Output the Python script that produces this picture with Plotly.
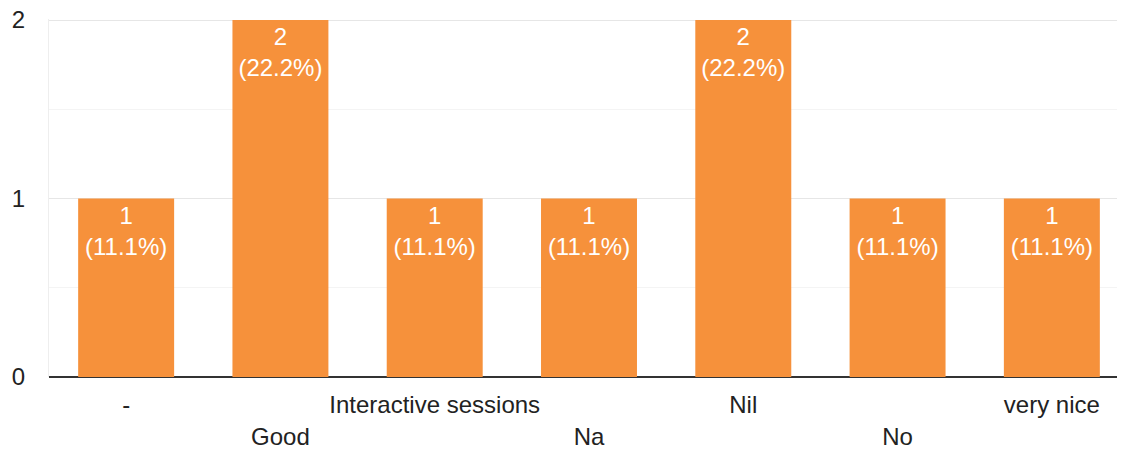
import plotly.graph_objects as go

categories = ["-", "Good", "Interactive sessions", "Na", "Nil", "No", "very nice"]
counts = [1, 2, 1, 1, 2, 1, 1]
total = sum(counts)
labels = [f"{c}<br>({c / total * 100:.1f}%)" for c in counts]
row1_text = [c if i % 2 == 0 else "" for i, c in enumerate(categories)]
row2_text = [c if i % 2 == 1 else "" for i, c in enumerate(categories)]
y_ticks = [0, 1, 2]

BAR = "#F6913B"
FONT = "Liberation Sans, Arial, sans-serif"
TXT = "#222222"

fig = go.Figure()
fig.add_trace(go.Bar(
    x=categories, y=counts, text=labels, textposition="inside",
    insidetextanchor="end", textangle=0,
    textfont=dict(color="white", size=24, family=FONT),
    marker=dict(color=BAR, line=dict(width=0)),
    hoverinfo="skip",
))
fig.add_trace(go.Bar(
    x=categories, y=counts, xaxis="x2", opacity=0, hoverinfo="skip",
    showlegend=False, marker=dict(color=BAR),
))

fig.update_layout(
    width=1121, height=441,
    margin=dict(l=41, r=0, t=11, b=72),
    paper_bgcolor="white", plot_bgcolor="white",
    showlegend=False, bargap=0.378,
    font=dict(family=FONT, size=24, color=TXT),
    xaxis=dict(
        type="category", categoryarray=categories,
        tickvals=categories, ticktext=row1_text,
        showgrid=False, ticks="", showline=False, automargin=False,
        tickfont=dict(size=24, color=TXT),
        ticklabelstandoff=11,
    ),
    xaxis2=dict(
        type="category", categoryarray=categories, overlaying="x",
        matches="x", side="bottom", anchor="y", automargin=False,
        tickvals=categories, ticktext=row2_text,
        showgrid=False, ticks="", showline=False,
        tickfont=dict(size=24, color=TXT),
        ticklabelstandoff=43,
    ),
    yaxis=dict(
        range=[0, 2.006], tickvals=y_ticks, ticktext=[str(v) for v in y_ticks],
        showgrid=True, gridcolor="#e6e6e6", gridwidth=1,
        minor=dict(tickvals=[0.5, 1.5], showgrid=True, gridcolor="#f4f4f4", gridwidth=1),
        zeroline=True, zerolinecolor="#333333", zerolinewidth=2,
        showline=True, linecolor="#eeeeee", linewidth=1,
        ticks="", ticklabelstandoff=18, automargin=False,
        ticklabeloverflow="allow",
        tickfont=dict(size=24, color=TXT),
    ),
)

fig.write_html("out.html")
